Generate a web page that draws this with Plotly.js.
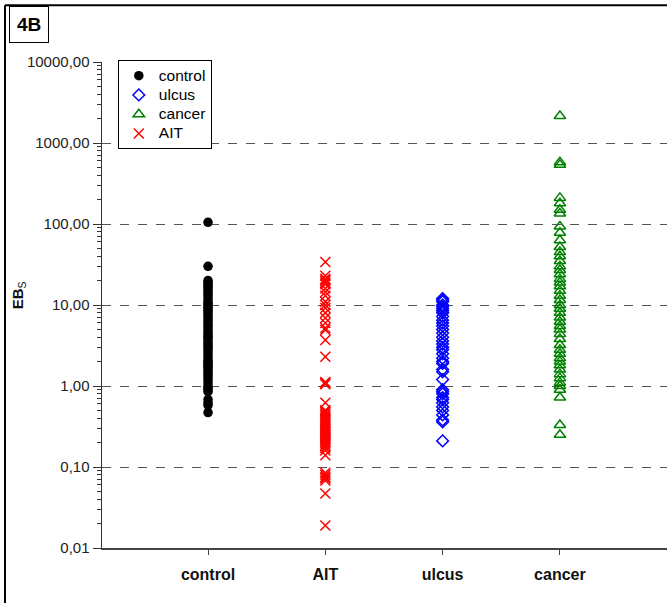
<!DOCTYPE html>
<html>
<head>
<meta charset="utf-8">
<script src="https://cdn.plot.ly/plotly-3.0.1.min.js"></script>
<style>html,body{margin:0;padding:0;background:#fff;}</style>
</head>
<body>
<div id="chart" style="width:667px;height:603px;"></div>
<script>
const categories = ["control", "AIT", "ulcus", "cancer"];
const legendNames = ["control", "ulcus", "cancer", "AIT"];

const controlValues = [105, 30, 20, 19, 18, 17, 16, 15, 14, 13, 12, 11, 10.5, 10, 9.5, 9, 8.5, 8, 7.5, 7, 6.5, 6, 5.6, 5.2, 4.8, 4.5, 4.2, 4, 3.8, 3.5, 3.3, 3.1, 2.9, 2.7, 2.5, 2.3, 2.1, 2, 1.9, 1.8, 1.7, 1.6, 1.5, 1.4, 1.3, 1.2, 1.1, 1.0, 0.95, 0.9, 0.85, 0.68, 0.62, 0.58, 0.47];
const aitValues = [34, 23, 21, 20, 19, 18, 16, 14.5, 13, 11, 10, 9.2, 8, 6.9, 6, 5.2, 4.9, 3.7, 2.3, 1.12, 1.08, 1.05, 0.62, 0.5, 0.48, 0.46, 0.44, 0.42, 0.4, 0.38, 0.36, 0.34, 0.32, 0.3, 0.29, 0.28, 0.27, 0.26, 0.25, 0.24, 0.23, 0.22, 0.21, 0.2, 0.19, 0.18, 0.17, 0.16, 0.14, 0.085, 0.08, 0.075, 0.072, 0.068, 0.047, 0.019];
const ulcusValues = [12, 11.5, 11, 10, 9.5, 9, 8.5, 8, 7.2, 6.5, 6, 5.5, 5, 4.5, 4, 3.6, 3.3, 3, 2.8, 2.5, 2.2, 2, 1.9, 1.6, 1.5, 1.2, 0.9, 0.85, 0.8, 0.72, 0.68, 0.62, 0.55, 0.5, 0.44, 0.38, 0.36, 0.21];
const cancerValues = [2150, 580, 540, 210, 180, 150, 135, 93, 78, 63, 52, 45, 40, 35, 30, 27, 24, 21, 19, 17, 15, 13, 11.5, 10, 9, 8, 7, 6.2, 5.5, 5, 4.4, 3.8, 3.2, 2.8, 2.5, 2.2, 2, 1.8, 1.6, 1.4, 1.25, 1.1, 1, 0.9, 0.72, 0.33, 0.25];

const yTickVals = [0.01, 0.1, 1, 10, 100, 1000, 10000];
const yTickText = ["0,01", "0,10", "1,00", "10,00", "100,00", "1000,00", "10000,00"];

const FONT = "Liberation Sans, Arial, sans-serif";

function rep(name, n) { return Array(n).fill(name); }
function legendLabel(s) { return "<span style='font-size:15.5px'>" + s + "</span>"; }

const traces = [
  {
    name: legendLabel(legendNames[0]), type: "scatter", mode: "markers",
    x: rep("control", controlValues.length), y: controlValues,
    marker: {symbol: "circle", size: 9.5, color: "#000000"}
  },
  {
    name: legendLabel(legendNames[1]), type: "scatter", mode: "markers",
    x: rep("ulcus", ulcusValues.length), y: ulcusValues,
    marker: {symbol: "diamond-open", size: 9, color: "#0000ff", line: {width: 1.5, color: "#0000ff"}}
  },
  {
    name: legendLabel(legendNames[2]), type: "scatter", mode: "markers",
    x: rep("cancer", cancerValues.length), y: cancerValues,
    marker: {symbol: "triangle-up-open", size: 10, color: "#008000", line: {width: 1.5, color: "#008000"}}
  },
  {
    name: legendLabel(legendNames[3]), type: "scatter", mode: "markers",
    x: rep("AIT", aitValues.length), y: aitValues,
    marker: {symbol: "x-thin-open", size: 10, color: "#ff0000", line: {width: 1.5, color: "#ff0000"}}
  }
];

const layout = {
  width: 667, height: 603,
  margin: {l: 102, r: 0, t: 62, b: 55},
  paper_bgcolor: "#ffffff", plot_bgcolor: "#ffffff",
  font: {family: FONT, size: 14, color: "#222"},
  showlegend: true,
  legend: {
    x: 0.028, y: 1.004, xanchor: "left", yanchor: "top",
    bordercolor: "#000", borderwidth: 1, bgcolor: "#fff",
    font: {family: FONT, size: 12.5, color: "#000"},
    itemwidth: 30, tracegroupgap: 0
  },
  xaxis: {
    type: "category", categoryorder: "array", categoryarray: categories,
    range: [-0.904, 3.913],
    showgrid: false, zeroline: false,
    showline: true, linecolor: "#444", linewidth: 1.5,
    ticks: "outside", ticklen: 5, tickcolor: "#444",
    ticklabelstandoff: 6,
    tickfont: {family: FONT, size: 16, color: "#111", weight: "bold"}
  },
  yaxis: {
    type: "log", range: [-2, 4],
    tickmode: "array", tickvals: yTickVals, ticktext: yTickText,
    showgrid: true, gridcolor: "#555", griddash: "dash", gridwidth: 1,
    zeroline: false,
    showline: true, linecolor: "#333", linewidth: 1.5,
    ticks: "outside", ticklen: 8, tickcolor: "#333",
    minor: {dtick: "D1", ticks: "outside", ticklen: 4, tickcolor: "#333", showgrid: false},
    tickfont: {family: FONT, size: 15, color: "#222"}
  },
  annotations: [
    {
      text: "<b>4B</b>", xref: "paper", yref: "paper",
      x: -0.1646, y: 1.1152, xanchor: "left", yanchor: "top",
      showarrow: false, font: {family: FONT, size: 19, color: "#000"},
      bordercolor: "#000", borderwidth: 1, borderpad: 7, bgcolor: "#fff"
    },
    {
      text: "<b>EB</b><sub>S</sub>", xref: "paper", yref: "paper",
      x: -0.1487, y: 0.52, xanchor: "center", yanchor: "middle",
      textangle: -90, showarrow: false,
      font: {family: FONT, size: 15, color: "#111"}
    }
  ],
  shapes: [
    {type: "line", xref: "paper", yref: "paper", x0: -0.1717, x1: -0.1717, y0: 1.117, y1: -0.2, line: {color: "#000", width: 2}},
    {type: "line", xref: "paper", yref: "paper", x0: -0.1717, x1: 1.05, y0: 1.117, y1: 1.117, line: {color: "#000", width: 2}}
  ]
};

Plotly.newPlot("chart", traces, layout, {displayModeBar: false, staticPlot: true});
</script>
</body>
</html>
